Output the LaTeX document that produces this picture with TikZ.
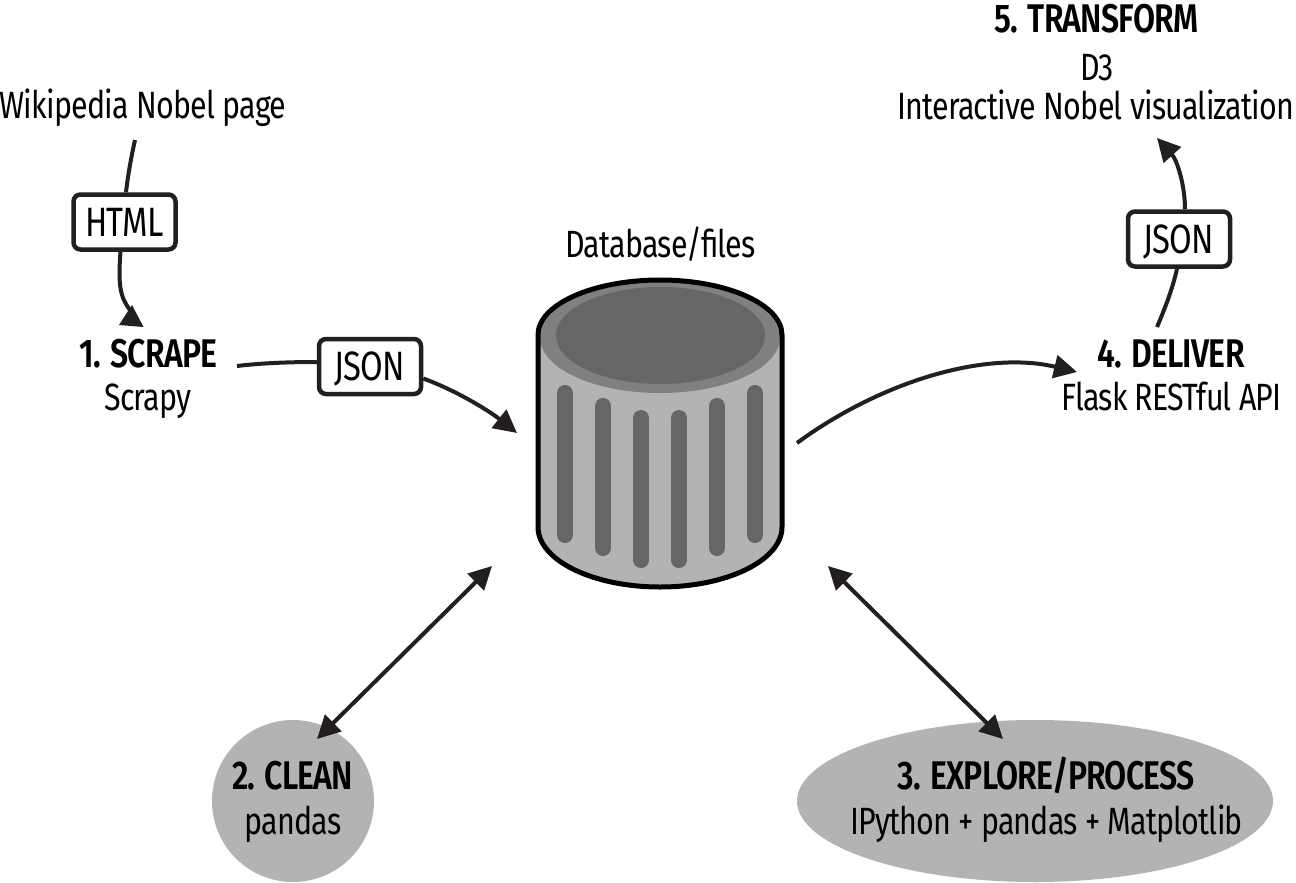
\documentclass[tikz,border=0pt]{standalone}
\usepackage{fontspec}
\setmainfont[FakeStretch=0.8,LetterSpace=-2,BoldFont={Fira Sans SemiBold}]{Fira Sans}
\usetikzlibrary{arrows.meta,shapes.geometric}
\definecolor{ink}{HTML}{231F20}
\definecolor{dbbody}{HTML}{B3B3B3}
\definecolor{dbdark}{HTML}{666666}
\definecolor{dbring}{HTML}{808080}
\tikzset{
  x=1pt,y=-1pt,
  lbl/.style={inner sep=0pt,anchor=base,font=\fontsize{38}{42}\selectfont,text=black},
  hd/.style={lbl,font=\fontsize{40}{44}\selectfont\bfseries},
  tagbox/.style={draw=ink,line width=4.5pt,rounded corners=7pt,fill=white,minimum width=102pt,minimum height=55pt,inner sep=0pt,font=\fontsize{41}{44}\selectfont,text height=28pt,text depth=0pt},
  conn/.style={draw=ink,line width=4pt},
  tipend/.style={-{Triangle[length=23pt,width=23pt]}},
  tipboth/.style={{Triangle[length=23pt,width=23pt]}-{Triangle[length=23pt,width=23pt]}},
  blob/.style={fill=dbbody,draw=none,inner sep=0pt},
  slot/.style={line width=16pt,draw=dbdark,line cap=round}
}
\begin{document}
\begin{tikzpicture}
\useasboundingbox (0,0) rectangle (1296,883);

% shapes behind connectors
\node[blob,circle,minimum size=162pt] (clean) at (293,801) {};
\node[blob,ellipse,minimum width=476pt,minimum height=162pt] (explore) at (1035,801) {};

% database
\fill[dbbody] (538,335) arc[start angle=180,end angle=0,x radius=122,y radius=-55] -- (782,527) arc[start angle=0,end angle=180,x radius=122,y radius=60] -- cycle;
\fill[dbring] (660,337.5) ellipse[x radius=120,y radius=55.5];
\fill[dbdark] (660.5,335.5) ellipse[x radius=104.5,y radius=48.5];
\foreach \cx/\ya/\yb in {565/393/535,603/406/548,641/418/560,679/418/560,717/406/548,755/393/535}
  \draw[slot] (\cx,\ya) -- (\cx,\yb);
\draw[black,line width=5pt] (538,527) -- (538,335) arc[start angle=180,end angle=0,x radius=122,y radius=-55] -- (782,527) arc[start angle=0,end angle=180,x radius=122,y radius=60] -- cycle;

% free ends
\coordinate (wikiend) at (135,140);
\coordinate (scrapetip) at (130,310);
\coordinate (scrapeout) at (237,366);
\coordinate (dbin) at (517,433);
\coordinate (dbout) at (797,443);
\coordinate (delivertip) at (1077,372);
\coordinate (deliverout) at (1157,327);
\coordinate (transformtip) at (1157,138);
\coordinate (dbclean) at (492,566);
\coordinate (cleantip) at (317,739);
\coordinate (dbexplore) at (828,566);
\coordinate (exploretip) at (1003,739);
\coordinate (apexA) at (132,305);
\coordinate (apexB) at (119,325);
\coordinate (apexC) at (143.5,327);

% boxes
\node[tagbox] (htmlbox) at (124.5,222) {HTML};
\node[tagbox] (jsonA) at (370,366.5) {JSON};
\node[tagbox] (jsonB) at (1179,239) {JSON};

% connectors
\draw[conn] (wikiend) .. controls (131,158) and (128,175) .. ([xshift=1.5pt]htmlbox.north);
\draw[conn] ([xshift=-4pt]htmlbox.south) .. controls (118,285) and (120,297) .. (scrapetip);
\fill[ink] (apexA) -- (apexB) -- (apexC) -- cycle;
\draw[conn] (scrapeout) .. controls (262,363) and (290,362) .. (jsonA.west |- 0,362);
\draw[conn,tipend] ([yshift=-12pt]jsonA.east) .. controls (455,390) and (488,410) .. (dbin);
\draw[conn,tipend] (dbout) .. controls (880,382) and (985,350) .. (delivertip);
\draw[conn] (deliverout) .. controls (1166,306) and (1173,287) .. ([xshift=-2pt]jsonB.south);
\draw[conn,tipend] ([xshift=6pt]jsonB.north) .. controls (1185,185) and (1177,160) .. (transformtip);
\draw[conn,tipboth] (dbclean) -- (cleantip);
\draw[conn,tipboth] (dbexplore) -- (exploretip);

% labels
\node[lbl] (wiki) at (143,118) {Wikipedia Nobel page};
\node[hd] (scrapeh) at (148.5,367) {1. SCRAPE};
\node[lbl] (scrapet) at (148,410) {Scrapy};
\node[lbl] (dblabel) at (660.5,257) {Database/files};
\node[hd] (cleanh) at (292.5,789) {2. CLEAN};
\node[lbl] (cleant) at (293,834) {pandas};
\node[hd] (exploreh) at (1046,789) {3. EXPLORE/PROCESS};
\node[lbl] (exploret) at (1046.5,834) {IPython + pandas + Matplotlib};
\node[hd] (deliverh) at (1171,367) {4. DELIVER};
\node[lbl] (delivert) at (1171.5,410) {Flask RESTful API};
\node[hd] (transformh) at (1096.5,33) {5. TRANSFORM};
\node[lbl] (dthree) at (1097,81) {D3};
\node[lbl] (transformt) at (1096,119) {Interactive Nobel visualization};
\end{tikzpicture}
\end{document}
